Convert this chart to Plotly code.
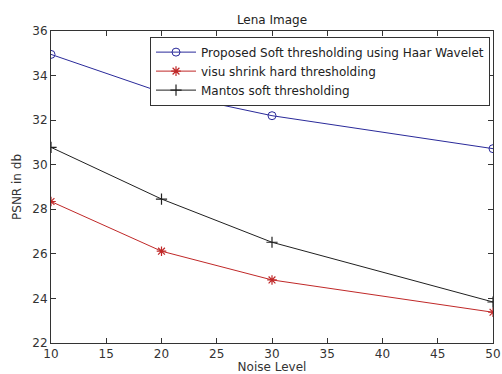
import plotly.graph_objects as go

noise_levels = [10, 20, 30, 50]
proposed_haar = [34.95, 33.25, 32.2, 30.72]
visu_hard = [28.35, 26.12, 24.83, 23.38]
mantos_soft = [30.78, 28.46, 26.52, 23.84]

x_ticks = [10, 15, 20, 25, 30, 35, 40, 45, 50]
y_ticks = [22, 24, 26, 28, 30, 32, 34, 36]

font = "DejaVu Sans, sans-serif"

fig = go.Figure()
fig.add_trace(go.Scatter(
    x=noise_levels, y=proposed_haar, mode="lines+markers",
    name="Proposed Soft thresholding using Haar Wavelet",
    line=dict(color="#2a2a9a", width=1),
    marker=dict(symbol="circle-open", size=8, color="#2a2a9a", line=dict(width=1)),
))
fig.add_trace(go.Scatter(
    x=noise_levels, y=visu_hard, mode="lines+markers",
    name="visu shrink hard thresholding",
    line=dict(color="#c02828", width=1),
    marker=dict(symbol="asterisk-open", size=8, color="#c02828", line=dict(width=1.2)),
))
fig.add_trace(go.Scatter(
    x=noise_levels, y=mantos_soft, mode="lines+markers",
    name="Mantos soft thresholding",
    line=dict(color="#202020", width=1),
    marker=dict(symbol="cross-thin-open", size=8, color="#202020", line=dict(width=1.2)),
))

axis_common = dict(
    showline=True, linecolor="#333333", linewidth=1, mirror="ticks",
    ticks="inside", ticklen=5, tickcolor="#333333", showgrid=False, zeroline=False,
    automargin=False,
    tickfont=dict(family=font, size=12, color="#333333"),
)

fig.update_layout(
    width=502, height=374,
    margin=dict(l=51, r=9, t=31, b=31),
    paper_bgcolor="white", plot_bgcolor="white",
    title=dict(text="Lena Image", x=0.5, xref="paper", y=1 - 20 / 374, yref="container",
               xanchor="center", yanchor="middle", automargin=False,
               font=dict(family=font, size=12, color="#222222")),
    xaxis=dict(range=[10, 50], tickvals=x_ticks,
               title=dict(text="Noise Level", standoff=0,
                          font=dict(family=font, size=12, color="#333333")),
               **axis_common),
    yaxis=dict(range=[22, 36], tickvals=y_ticks,
               title=dict(text="PSNR in db", standoff=8,
                          font=dict(family=font, size=12, color="#333333")),
               **axis_common),
    legend=dict(x=0.224, y=0.982, xanchor="left", yanchor="top",
                bgcolor="white", bordercolor="#333333", borderwidth=1,
                font=dict(family=font, size=12, color="#222222"),
                tracegroupgap=0, itemwidth=40),
    showlegend=True,
)

fig.write_html("out.html",
               config={"displayModeBar": False},
               post_script="document.body.style.margin='0';document.body.style.overflow='hidden';")
